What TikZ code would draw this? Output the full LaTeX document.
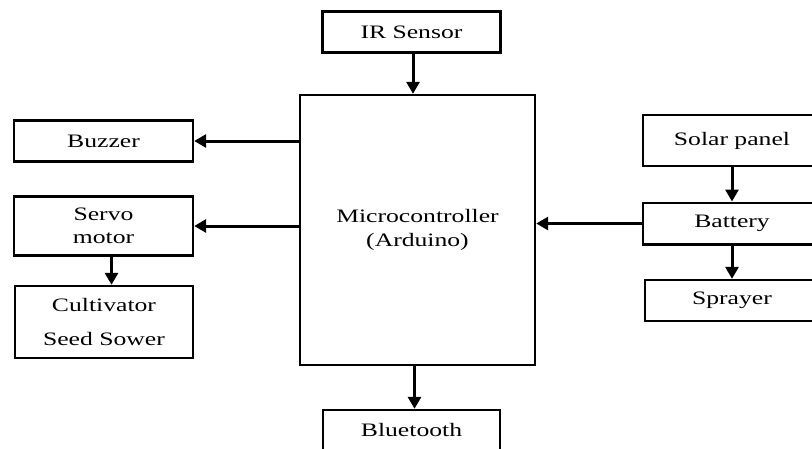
\documentclass[tikz,border=0pt]{standalone}
\usepackage{fontspec}
\setmainfont{Liberation Serif}[FakeStretch=1.35]
\usetikzlibrary{arrows.meta,calc}
\begin{document}
\begin{tikzpicture}[x=1pt,y=-1pt,
  blk/.style={draw=black,line width=2.4pt,inner sep=0pt,align=center,
    font=\fontsize{19}{23.5}\selectfont,text=black},
  arr/.style={line width=3pt,-{Triangle[length=12pt,width=13pt]}}]
\useasboundingbox (0,0) rectangle (812,448);
\node[blk,minimum width=178pt,minimum height=41pt] (ir) at (411.5,32) {IR Sensor};
\node[blk,minimum width=235pt,minimum height=270pt] (mc) at (417.5,230) {Microcontroller\\(Arduino)};
\node[blk,minimum width=179pt,minimum height=41pt] (buz) at (103.5,141) {Buzzer};
\node[blk,minimum width=179pt,minimum height=59pt] (servo) at (103.5,226) {Servo\\motor};
\node[blk,minimum width=178pt,minimum height=72pt] (cult) at (104,322) {Cultivator\\[11pt]Seed Sower};
\node[blk,minimum width=178.6pt,minimum height=51pt] (solar) at (732,140.5) {Solar panel};
\node[blk,minimum width=178.6pt,minimum height=41.6pt] (bat) at (732,223.5) {Battery};
\node[blk,minimum width=174pt,minimum height=40.7pt] (spr) at (732,300.4) {Sprayer};
\node[blk,minimum width=177pt,minimum height=40pt] (bt) at (411.5,430) {Bluetooth};
\draw[arr] ([xshift=1.5pt]ir.south) -- ([xshift=1.5pt]ir.south |- mc.north);
\draw[arr] (mc.west |- buz) -- (buz.east);
\draw[arr] (mc.west |- servo) -- (servo.east);
\draw[arr] ([xshift=8pt]servo.south) -- ([xshift=8pt]servo.south |- cult.north);
\draw[arr] (solar.south) -- (bat.north);
\draw[arr] (bat.south) -- (spr.north);
\draw[arr] (bat.west) -- (bat -| mc.east);
\draw[arr] ([xshift=-3pt]mc.south) -- ([xshift=-3pt]mc.south |- bt.north);
\end{tikzpicture}
\end{document}
